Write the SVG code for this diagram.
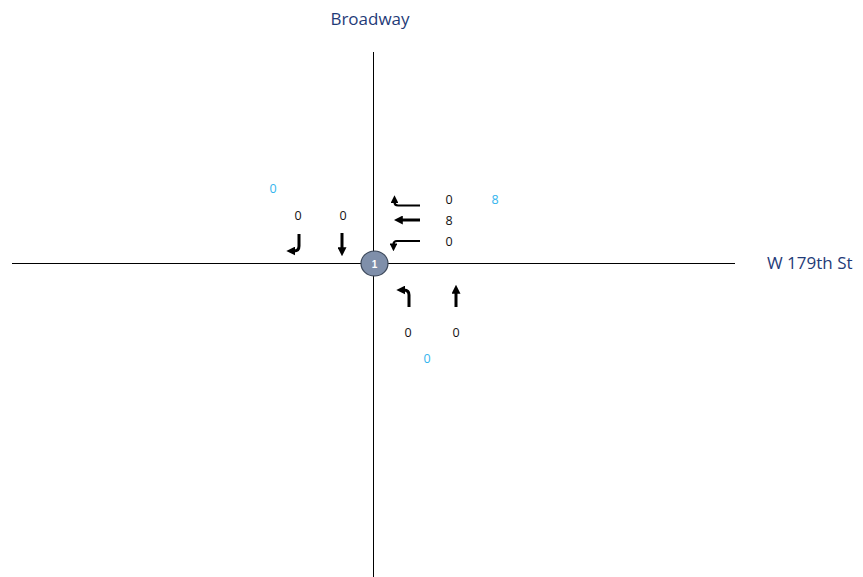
<svg xmlns="http://www.w3.org/2000/svg" width="863" height="577" viewBox="0 0 863 577">
<style>
.road{stroke:#000;stroke-width:1;fill:none}
.street{font-family:"Open Sans","Liberation Sans",sans-serif;font-size:17px;fill:#1f3b78}
.vol{font-family:"Open Sans","Liberation Sans",sans-serif;font-size:12.5px;fill:#111;text-anchor:middle}
.tot{font-family:"Open Sans","Liberation Sans",sans-serif;font-size:12.5px;fill:#33b5ee;text-anchor:middle}
.arr{stroke:#000;fill:none}
.thk{stroke-width:3}
.thn{stroke-width:2.2}
</style>
<defs>
<marker id="ah" viewBox="0 0 10 10" refX="2" refY="5" markerWidth="3" markerHeight="3" orient="auto" markerUnits="strokeWidth">
<path d="M0,0 L10,5 L0,10 z" fill="#000"/>
</marker>
<marker id="ahs" viewBox="0 0 10 10" refX="2" refY="5" markerWidth="3.6" markerHeight="3.6" orient="auto" markerUnits="strokeWidth">
<path d="M0,0 L10,5 L0,10 z" fill="#000"/>
</marker>
</defs>
<rect width="863" height="577" fill="#fff"/>
<g id="roads">
<line class="road" x1="373.5" y1="52" x2="373.5" y2="577"/>
<line class="road" x1="12" y1="263.5" x2="735" y2="263.5"/>
</g>
<g id="labels">
<text class="street" x="370" y="25" text-anchor="middle">Broadway</text>
<text class="street" x="767" y="269">W 179th St</text>
</g>
<g id="connectors">
<path class="arr thn" d="M420,205.5 H398 Q394.5,205.5 394.5,202 V201.5" marker-end="url(#ahs)"/>
<path class="arr thk" d="M420,220 H401" marker-end="url(#ah)"/>
<path class="arr thn" d="M420,241 H397 Q393.5,241 393.5,244.5 V245" marker-end="url(#ahs)"/>
<path class="arr thk" d="M342,233 V249" marker-end="url(#ah)"/>
<path class="arr thk" d="M299,234 V246 Q299,251 294,251 H293.5" marker-end="url(#ah)"/>
<path class="arr thk" d="M456,307 V292" marker-end="url(#ah)"/>
<path class="arr thk" d="M409,307 V295 Q409,290 404,290 H403.5" marker-end="url(#ah)"/>
</g>
<g id="volumes">
<text class="tot" x="273" y="193">0</text>
<text class="vol" x="298" y="220">0</text>
<text class="vol" x="343" y="220">0</text>
<text class="vol" x="449" y="204">0</text>
<text class="tot" x="495" y="204">8</text>
<text class="vol" x="449" y="225">8</text>
<text class="vol" x="449" y="246">0</text>
<text class="vol" x="408" y="337">0</text>
<text class="vol" x="456" y="337">0</text>
<text class="tot" x="427" y="363">0</text>
</g>
<g id="node1">
<ellipse cx="374.5" cy="263.5" rx="13.5" ry="12.5" fill="#7f8faa" stroke="#3a4658" stroke-width="1.2"/>
<text x="374.5" y="267.5" text-anchor="middle" font-family="Liberation Sans,Arial,sans-serif" font-size="10" font-weight="bold" fill="#fff">1</text>
</g>
</svg>
